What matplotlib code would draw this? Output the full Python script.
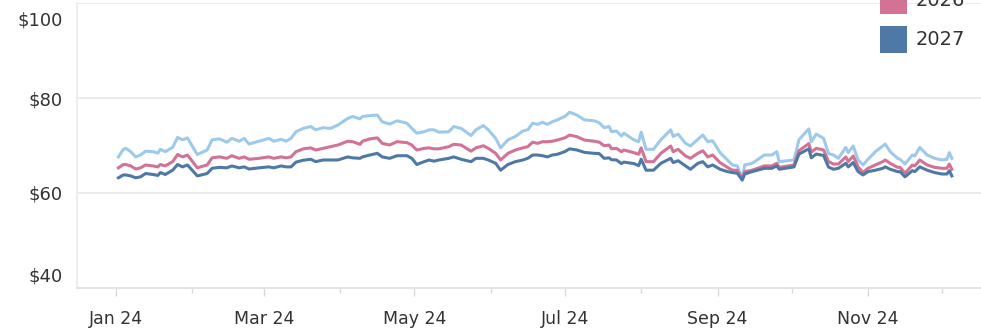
import matplotlib
matplotlib.use('Agg')
import matplotlib.pyplot as plt
import matplotlib.dates as mdates
import matplotlib.transforms as mtransforms
from matplotlib.patches import Rectangle
import pandas as pd


# values (2024 daily prices)
dates = [
    '2024-01-02', '2024-01-04', '2024-01-05', '2024-01-07', '2024-01-09', '2024-01-11',
    '2024-01-13', '2024-01-16', '2024-01-18', '2024-01-19', '2024-01-21', '2024-01-24',
    '2024-01-26', '2024-01-28', '2024-01-30', '2024-02-03', '2024-02-07', '2024-02-09',
    '2024-02-12', '2024-02-15', '2024-02-17', '2024-02-20', '2024-02-22', '2024-02-24',
    '2024-02-28', '2024-03-03', '2024-03-05', '2024-03-08', '2024-03-10', '2024-03-12',
    '2024-03-14', '2024-03-17', '2024-03-20', '2024-03-22', '2024-03-25', '2024-03-28',
    '2024-03-31', '2024-04-04', '2024-04-06', '2024-04-09', '2024-04-10', '2024-04-13',
    '2024-04-16', '2024-04-18', '2024-04-21', '2024-04-24', '2024-04-28', '2024-04-30',
    '2024-05-02', '2024-05-05', '2024-05-07', '2024-05-09', '2024-05-11', '2024-05-15',
    '2024-05-17', '2024-05-20', '2024-05-24', '2024-05-26', '2024-05-29', '2024-05-31',
    '2024-06-03', '2024-06-05', '2024-06-08', '2024-06-11', '2024-06-14', '2024-06-16',
    '2024-06-18', '2024-06-20', '2024-06-22', '2024-06-24', '2024-06-26', '2024-06-28',
    '2024-07-01', '2024-07-03', '2024-07-06', '2024-07-09', '2024-07-13', '2024-07-15',
    '2024-07-17', '2024-07-19', '2024-07-20', '2024-07-22', '2024-07-24', '2024-07-25',
    '2024-07-29', '2024-07-31', '2024-08-01', '2024-08-03', '2024-08-06', '2024-08-09',
    '2024-08-13', '2024-08-14', '2024-08-16', '2024-08-19', '2024-08-21', '2024-08-24',
    '2024-08-26', '2024-08-28', '2024-08-30', '2024-09-02', '2024-09-05', '2024-09-07',
    '2024-09-09', '2024-09-11', '2024-09-12', '2024-09-15', '2024-09-20', '2024-09-23',
    '2024-09-25', '2024-09-26', '2024-10-02', '2024-10-04', '2024-10-08', '2024-10-09',
    '2024-10-11', '2024-10-14', '2024-10-16', '2024-10-18', '2024-10-20', '2024-10-23',
    '2024-10-24', '2024-10-26', '2024-10-28', '2024-10-30', '2024-11-01', '2024-11-04',
    '2024-11-07', '2024-11-08', '2024-11-10', '2024-11-13', '2024-11-14', '2024-11-16',
    '2024-11-19', '2024-11-20', '2024-11-22', '2024-11-25', '2024-11-28', '2024-12-01',
    '2024-12-03', '2024-12-04', '2024-12-05',
]

price_2025 = [
    67.6, 69.2, 69.4, 68.7, 67.6, 68.0, 68.8, 68.7, 68.4, 69.2, 68.7, 69.6,
    71.7, 71.2, 71.6, 68.1, 69.05, 71.2, 71.4, 70.7, 71.5, 70.9, 71.5, 70.3,
    70.9, 71.5, 70.9, 71.3, 70.9, 71.5, 72.9, 73.6, 74.0, 73.3, 73.75, 73.6,
    74.3, 75.7, 76.1, 75.6, 76.1, 76.3, 76.4, 75.0, 74.5, 75.2, 74.7, 73.6,
    72.6, 72.9, 73.3, 73.3, 72.8, 72.9, 74.0, 73.6, 72.1, 73.3, 74.2, 73.3,
    71.5, 69.5, 71.2, 71.9, 73.05, 73.3, 74.7, 74.45, 74.9, 74.45, 75.0, 75.4,
    76.1, 77.0, 76.4, 75.4, 75.2, 74.8, 73.75, 74.0, 72.9, 73.05, 72.0, 72.6,
    71.2, 70.8, 72.8, 69.2, 69.2, 71.2, 73.3, 71.9, 72.4, 70.45, 69.9, 71.3,
    72.2, 70.8, 71.0, 68.5, 66.95, 65.9, 65.7, 63.1, 65.9, 66.25, 68.0, 68.0,
    68.7, 66.6, 66.95, 71.2, 73.5, 70.8, 72.4, 71.5, 68.3, 68.0, 67.3, 69.6,
    68.5, 69.9, 66.95, 65.9, 67.1, 68.7, 69.9, 70.3, 68.7, 67.3, 67.1, 66.1,
    68.0, 67.8, 69.6, 68.0, 67.3, 66.95, 67.1, 68.5, 67.3,
]

price_2026 = [
    65.3, 66.0, 66.0, 65.7, 65.05, 65.3, 65.9, 65.7, 65.5, 66.0, 65.7, 66.6,
    68.1, 67.6, 68.0, 65.3, 65.9, 67.4, 67.6, 67.3, 67.85, 67.3, 67.6, 67.1,
    67.3, 67.6, 67.3, 67.6, 67.4, 67.6, 68.7, 69.3, 69.5, 69.05, 69.4, 69.75,
    70.1, 70.9, 70.8, 70.25, 70.9, 71.4, 71.6, 70.45, 70.1, 70.8, 70.6, 70.1,
    69.05, 69.4, 69.5, 69.3, 69.3, 69.75, 70.25, 70.1, 68.8, 69.5, 69.95, 69.4,
    68.35, 66.95, 68.35, 69.05, 69.5, 69.75, 70.7, 70.45, 70.8, 70.8, 70.9, 71.15,
    71.6, 72.2, 71.85, 71.15, 70.9, 70.7, 69.95, 70.1, 69.3, 69.4, 68.7, 69.05,
    68.5, 68.15, 69.5, 66.6, 66.6, 68.35, 69.9, 68.7, 69.2, 67.8, 67.3, 68.35,
    68.9, 67.6, 68.0, 66.4, 65.4, 64.8, 64.8, 62.9, 64.5, 64.8, 65.7, 65.7,
    66.25, 65.4, 65.9, 68.9, 70.4, 68.6, 69.4, 69.05, 66.6, 66.1, 66.1, 67.6,
    66.6, 67.8, 65.5, 64.3, 65.2, 65.9, 66.6, 66.95, 66.25, 65.4, 65.4, 64.15,
    65.9, 65.7, 66.95, 65.9, 65.4, 65.2, 65.2, 66.1, 65.0,
]

price_2027 = [
    63.2, 63.8, 63.8, 63.6, 63.2, 63.4, 64.1, 63.9, 63.7, 64.3, 63.9, 64.8,
    66.0, 65.5, 65.9, 63.6, 64.1, 65.2, 65.4, 65.3, 65.7, 65.3, 65.5, 65.05,
    65.3, 65.5, 65.3, 65.7, 65.5, 65.5, 66.5, 66.9, 67.1, 66.6, 66.95, 66.95,
    66.95, 67.6, 67.4, 67.3, 67.6, 68.0, 68.35, 67.6, 67.3, 67.85, 67.85, 67.3,
    66.0, 66.6, 66.95, 66.7, 66.95, 67.3, 67.6, 67.1, 66.6, 67.3, 67.3, 66.95,
    66.25, 64.8, 66.0, 66.6, 66.95, 67.3, 68.0, 68.0, 67.85, 67.6, 68.0, 68.15,
    68.7, 69.3, 69.05, 68.55, 68.35, 68.3, 67.3, 67.4, 67.0, 66.95, 66.2, 66.5,
    66.2, 65.75, 67.1, 64.8, 64.8, 66.25, 67.3, 66.4, 66.8, 65.7, 65.0, 66.25,
    66.6, 65.5, 65.9, 65.0, 64.5, 64.3, 64.15, 62.7, 64.0, 64.5, 65.2, 65.2,
    65.7, 65.0, 65.5, 68.2, 69.3, 67.4, 68.2, 67.9, 65.45, 65.0, 65.2, 66.25,
    65.5, 66.4, 64.5, 63.8, 64.5, 64.8, 65.2, 65.5, 65.0, 64.5, 64.5, 63.4,
    64.7, 64.5, 65.5, 64.8, 64.3, 64.0, 64.0, 64.7, 63.6,
]

series_names = ['2025', '2026', '2027']
series_colors = ['#9DCAEA', '#D37295', '#4E79A7']

TEXT = '#333333'
GRID = '#EBEBEB'
W, H = 981, 332

x = pd.to_datetime(dates)

fig = plt.figure(figsize=(W / 100, H / 100), dpi=100)
ax = fig.add_axes([77 / W, 44 / H, 1 - 77 / W, 285 / H])

for vals, color in zip([price_2025, price_2026, price_2027], series_colors):
    ax.plot(x, vals, color=color, lw=2.2, solid_joinstyle='round')

ax.set_ylim(40, 100)
ax.set_yticks([40, 60, 80, 100])
ax.set_yticklabels(['$40', '$60', '$80', '$100'])
ax.set_xlim(pd.Timestamp('2023-12-16 05:00'), pd.Timestamp('2024-12-16 20:00'))

ax.xaxis.set_major_locator(mdates.MonthLocator(bymonth=[1, 3, 5, 7, 9, 11]))
ax.xaxis.set_minor_locator(mdates.MonthLocator(bymonth=[2, 4, 6, 8, 10, 12]))
ax.xaxis.set_major_formatter(mdates.DateFormatter('%b %y'))

ax.grid(axis='y', color=GRID, lw=1.4)
ax.set_axisbelow(True)
for side in ['top', 'right']:
    ax.spines[side].set_visible(False)
ax.spines['left'].set_color(GRID)
ax.spines['left'].set_linewidth(1.2)
ax.spines['bottom'].set_color('#E3E3E3')
ax.spines['bottom'].set_linewidth(1.4)

ax.tick_params(axis='y', length=0, pad=10, labelsize=13, labelcolor=TEXT)
ax.tick_params(axis='x', which='major', length=6, width=1, color='#D9D9D9',
               pad=9.5, labelsize=12.5, labelcolor=TEXT)
ax.tick_params(axis='x', which='minor', length=3.5, width=1, color='#D9D9D9')

# Tableau keeps the edge labels inside the plot
ticks = ax.yaxis.get_major_ticks()
for tick, dy in [(ticks[0], 13), (ticks[-1], -15)]:
    off = mtransforms.ScaledTranslation(0, dy / 100, fig.dpi_scale_trans)
    tick.label1.set_transform(tick.label1.get_transform() + off)

# colour legend, top entry runs off the top edge like in the dashboard
box, step = 27, 39
for i, (name, color) in enumerate(zip(series_names, series_colors)):
    top = 26 - step * (len(series_names) - 1 - i)
    fig.add_artist(Rectangle((880 / W, 1 - (top + box) / H), box / W, box / H,
                             transform=fig.transFigure, facecolor=color,
                             edgecolor='none'))
    fig.text(916 / W, 1 - (top + box / 2) / H, name, va='center', ha='left',
             fontsize=14, color=TEXT)

fig.savefig('out.png', dpi=100)
